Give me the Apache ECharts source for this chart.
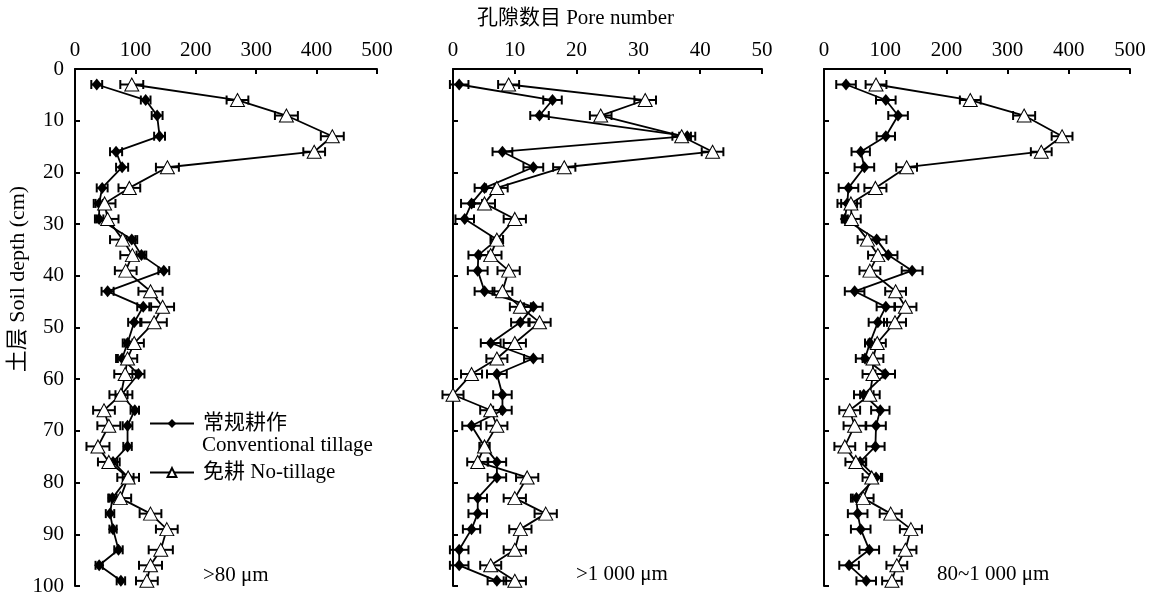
<!DOCTYPE html>
<html>
<head>
<meta charset="utf-8">
<script src="https://cdn.jsdelivr.net/npm/echarts@6/dist/echarts.min.js"></script>
<style>
html,body{margin:0;padding:0;background:#fff;}
#c{width:1151px;height:597px;}
</style>
</head>
<body>
<div id="c"></div>
<script>
// ---- data ----
var depths = [3,6,9,13,16,19,23,26,29,33,36,39,43,46,49,53,56,59,63,66,69,73,76,79,83,86,89,93,96,99];
var xTicks500 = [0,100,200,300,400,500];
var xTicks50 = [0,10,20,30,40,50];
var yTicks = [0,10,20,30,40,50,60,70,80,90,100];

// Panel 1: >80 um
var p1Conv    = [36,117,136,140,68,78,45,40,40,94,110,147,54,113,98,87,78,105,77,99,87,87,63,88,62,58,63,72,40,76];
var p1ConvErr = [9,8,9,9,10,10,9,6,7,9,8,9,10,10,10,8,10,10,10,7,8,7,7,9,7,7,6,7,6,7];
var p1No      = [94,269,350,426,396,153,90,49,54,79,95,84,125,145,131,98,87,83,76,48,56,38,56,88,75,125,152,142,125,119];
var p1NoErr   = [19,18,19,19,18,19,18,18,18,21,20,18,20,19,21,16,16,18,19,18,19,19,18,18,18,18,18,20,19,18];

// Panel 2: >1 000 um
var p2Conv    = [1,16.1,14,37.9,8,13,5.1,3,1.9,7.1,4.1,4,5.1,13,10.9,6.1,13,7.1,8,8,3,5.1,7.1,7.1,4,4,3,1,1,7.1];
var p2ConvErr = [1.5,1.5,1.5,1.3,1.6,1.6,1.6,1.7,1.5,1.0,1.6,1.6,1.6,1.5,1.5,1.6,1.5,1.6,1.5,1.5,1.5,0.8,1.5,1.5,1.5,1.5,1.4,1.5,1.5,1.5];
var p2No      = [9,31.1,23.9,37,42,18,7.1,5.1,10,7.1,6.1,9,8,10.9,14,10,7.1,3,0,6.1,7.1,5.1,4,12,10,15,10.9,10,6.1,10];
var p2NoErr   = [1.7,1.75,1.75,1.5,1.75,1.8,1.75,1.7,1.8,1.0,1.75,1.8,1.6,1.7,1.8,1.8,1.7,1.7,1.7,1.7,1.7,0.8,1.7,1.8,1.8,1.8,1.8,1.8,1.7,1.8];

// Panel 3: 80~1 000 um
var p3Conv    = [36,101,121,101,60,66,40,38,34,86,105,144,50,101,88,75,67,100,65,92,85,84,59,85,53,55,60,74,41,69];
var p3ConvErr = [16,16,16,15,15,16,16,16,5,16,15,17,16,15,15,8,15,16,16,15,16,15,9,10,9,16,16,16,16,16];
var p3No      = [85,239,327,389,355,135,84,44,45,71,88,75,117,133,116,87,80,80,75,42,50,34,52,78,64,109,142,133,119,111];
var p3NoErr   = [17,17,18,17,17,17,18,16,15,16,16,17,17,18,18,14,17,17,16,17,18,17,17,15,17,18,18,18,17,16];

var seriesNames = ['常规耕作', '免耕 No-tillage'];
var panelLabels = ['>80 μm', '>1 000 μm', '80~1 000 μm'];
var axisTitle = '孔隙数目 Pore number';
var yTitle = '土层 Soil depth (cm)';
var legendSub = 'Conventional tillage';

// ---- layout ----
var FONT = '"Liberation Serif", "Times New Roman", "Noto Sans CJK SC", serif';
var FS = 21;
var grids = [
  {left:75, top:69, width:302, height:517},
  {left:453, top:69, width:309, height:517},
  {left:824, top:69, width:306, height:517}
];
var panels = [
  {conv:p1Conv, convErr:p1ConvErr, no:p1No, noErr:p1NoErr, max:500, interval:100},
  {conv:p2Conv, convErr:p2ConvErr, no:p2No, noErr:p2NoErr, max:50, interval:10},
  {conv:p3Conv, convErr:p3ConvErr, no:p3No, noErr:p3NoErr, max:500, interval:100}
];

function pts(vals){ return vals.map(function(v,i){ return [v, depths[i]]; }); }
function errs(vals, e){ return vals.map(function(v,i){ return [v - e[i], v + e[i], depths[i]]; }); }

function renderErr(params, api){
  var y = api.value(2);
  var a = api.coord([api.value(0), y]);
  var b = api.coord([api.value(1), y]);
  var h = 4.5;
  var st = {stroke:'#000', lineWidth:2};
  return {type:'group', children:[
    {type:'line', shape:{x1:a[0], y1:a[1], x2:b[0], y2:b[1]}, style:st},
    {type:'line', shape:{x1:a[0], y1:a[1]-h, x2:a[0], y2:a[1]+h}, style:st},
    {type:'line', shape:{x1:b[0], y1:b[1]-h, x2:b[0], y2:b[1]+h}, style:st}
  ]};
}

var axisLineStyle = {color:'#000', width:2};
var xAxes = [], yAxes = [], series = [];
panels.forEach(function(p, k){
  xAxes.push({
    type:'value', gridIndex:k, position:'top', min:0, max:p.max, interval:p.interval,
    axisLine:{show:true, lineStyle:axisLineStyle},
    axisTick:{show:true, inside:true, length:5, lineStyle:axisLineStyle},
    axisLabel:{show:true, color:'#000', fontFamily:FONT, fontSize:FS, margin:8},
    splitLine:{show:false}
  });
  yAxes.push({
    type:'value', gridIndex:k, inverse:true, min:0, max:100, interval:10,
    axisLine:{show:true, onZero:false, lineStyle:axisLineStyle},
    axisTick:{show:true, inside:true, length:5, lineStyle:axisLineStyle},
    axisLabel:{show:k===0, color:'#000', fontFamily:FONT, fontSize:FS, margin:11},
    splitLine:{show:false}
  });
  series.push({
    type:'custom', xAxisIndex:k, yAxisIndex:k, renderItem:renderErr,
    encode:{x:[0,1], y:2}, data:errs(p.conv, p.convErr), clip:false, silent:true, z:2
  });
  series.push({
    type:'custom', xAxisIndex:k, yAxisIndex:k, renderItem:renderErr,
    encode:{x:[0,1], y:2}, data:errs(p.no, p.noErr), clip:false, silent:true, z:2
  });
  series.push({
    name:seriesNames[0], type:'line', xAxisIndex:k, yAxisIndex:k, data:pts(p.conv),
    symbol:'diamond', symbolSize:[10,12], clip:false,
    lineStyle:{color:'#000', width:1.8}, itemStyle:{color:'#000', borderColor:'#000', borderWidth:0},
    z:3, animation:false
  });
  series.push({
    name:seriesNames[1], type:'line', xAxisIndex:k, yAxisIndex:k, data:pts(p.no),
    symbol:'triangle', symbolSize:[14,13], clip:false,
    lineStyle:{color:'#000', width:1.8}, itemStyle:{color:'#fff', borderColor:'#000', borderWidth:1},
    z:4, animation:false
  });
});

var chart = echarts.init(document.getElementById('c'), null, {renderer:'canvas'});
chart.setOption({
  backgroundColor:'#fff',
  animation:false,
  grid: grids.map(function(g){ return Object.assign({containLabel:false, outerBoundsMode:'none'}, g); }),
  xAxis: xAxes,
  yAxis: yAxes,
  legend: {
    data: seriesNames, orient:'vertical', left:149, top:413, padding:0,
    itemWidth:44, itemHeight:11, itemGap:28,
    textStyle:{color:'#000', fontFamily:FONT, fontSize:FS, lineHeight:21, padding:[0,0,0,4]},
    selectedMode:false
  },
  graphic: [
    {type:'text', left:'center', top:8, style:{text:axisTitle, fill:'#000', font:FS + 'px ' + FONT}},
    {type:'text', x:18, y:279, rotation:Math.PI/2, style:{text:yTitle, fill:'#000', font:'22px ' + FONT, textAlign:'center', textVerticalAlign:'middle'}},
    {type:'text', x:202, y:445, style:{text:legendSub, fill:'#000', font:FS + 'px ' + FONT, textVerticalAlign:'middle'}},
    {type:'text', x:203, y:575, style:{text:panelLabels[0], fill:'#000', font:FS + 'px ' + FONT, textVerticalAlign:'middle'}},
    {type:'text', x:576, y:574, style:{text:panelLabels[1], fill:'#000', font:FS + 'px ' + FONT, textVerticalAlign:'middle'}},
    {type:'text', x:937, y:574, style:{text:panelLabels[2], fill:'#000', font:FS + 'px ' + FONT, textVerticalAlign:'middle'}}
  ],
  series: series
});
</script>
</body>
</html>
